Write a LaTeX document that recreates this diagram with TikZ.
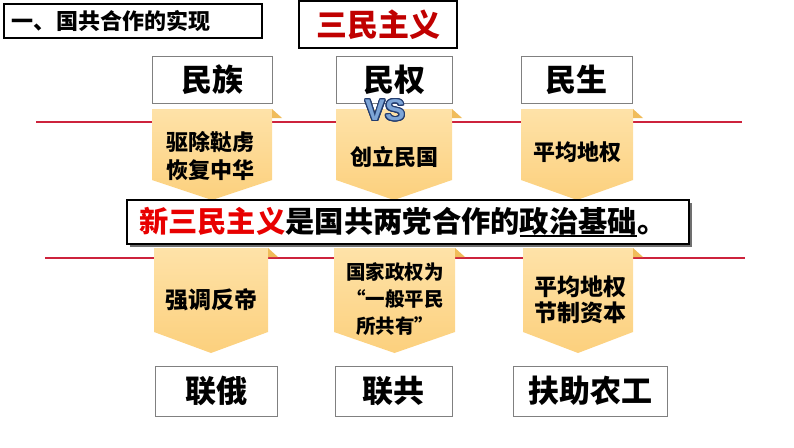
\documentclass[tikz,border=0pt]{standalone}
\usepackage{fontspec}
\usepackage{contour}
\newfontfamily\cjk{Noto Sans CJK SC}
\newfontfamily\vsfont{Liberation Sans}
\usetikzlibrary{positioning,shadows}

\definecolor{bannerlight}{RGB}{254,226,168}
\definecolor{banner}{RGB}{252,208,125}
\definecolor{bannerfold}{RGB}{240,188,90}
\definecolor{linered}{RGB}{205,35,60}
\definecolor{titlered}{RGB}{192,0,0}
\definecolor{newred}{RGB}{232,0,0}
\definecolor{boxgray}{RGB}{128,128,128}
\definecolor{vsblue}{RGB}{125,165,215}
\definecolor{vsdark}{RGB}{35,60,110}

% pennant: x-left, x-right, top, end of sides, tip
\newcommand{\pennant}[5]{%
  \shade[top color=bannerlight, bottom color=banner]
    (#1,#3) -- (#2,#3) -- (#2,#4) -- ({(#1+#2)/2},#5) -- (#1,#4) -- cycle;
  \fill[bannerfold] (#2,#3) -- (#2+10,#3+9) -- (#2,#3+9) -- cycle;}
% thick underline
\newcommand{\thickul}[1]{\setbox0\hbox{#1}\rlap{\rule[-4.5pt]{\wd0}{1.6pt}}\box0}

\tikzset{
  topbox/.style={draw=boxgray, fill=white, line width=1pt, inner sep=0pt,
    minimum height=47pt, font=\cjk\bfseries\fontsize{31}{31}\selectfont},
  bannertext/.style={align=center, inner sep=0pt,
    font=\cjk\bfseries\fontsize{22}{28}\selectfont},
  redline/.style={linered, line width=2.5pt}
}

\begin{document}
\begin{tikzpicture}[x=1pt, y=-1pt]
  \useasboundingbox (0,0) rectangle (794,447);

  \node[draw, line width=1.2pt, inner sep=0pt, inner xsep=8pt, minimum height=34pt,
    text width=242pt, align=left, font=\cjk\bfseries\fontsize{22}{22}\selectfont]
    (title) at (133,21) {一、国共合作的实现};
  \node[draw, line width=1.2pt, inner sep=0pt, minimum width=158pt, minimum height=47pt,
    text=titlered, font=\cjk\bfseries\fontsize{31}{31}\selectfont]
    (sanmin) at (378,24.5) {三民主义};

  \draw[redline] (36,122) -- (742,122);
  \draw[redline] (45,258) -- (745,258);

  \pennant{152}{272}{109}{180}{200}
  \pennant{336}{452}{109}{180}{200}
  \pennant{521}{633}{109}{180}{200}
  \pennant{154}{268}{248}{332}{353}
  \pennant{334}{455}{248}{332}{353}
  \pennant{523}{633}{248}{332}{353}

  \node[topbox, minimum width=120pt] (minzu) at (212,79.5) {民族};
  \node[topbox, minimum width=116pt] (minquan) at (394,79.5) {民权};
  \node[topbox, minimum width=111pt] (minsheng) at (576.5,79.5) {民生};

  \node[font=\vsfont\bfseries\fontsize{30}{30}\selectfont, inner sep=0pt] (vs) at (385,111)
    {\contourlength{1.2pt}\contour{vsdark}{\textcolor{vsblue}{VS}}};

  \node[bannertext] (quchu) at (210,156) {驱除鞑虏\\恢复中华};
  \node[bannertext] (chuangli) at (394,157) {创立民国};
  \node[bannertext] (pingjun) at (577,152) {平均地权};

  \node[draw, fill=white, line width=1.2pt, inner sep=0pt, inner xsep=12pt,
    minimum height=44pt, text width=538pt, align=left,
    drop shadow={shadow xshift=2.5pt, shadow yshift=-2.5pt, fill=black!80, opacity=0.7},
    font=\cjk\bfseries\fontsize{29.3}{29.3}\selectfont]
    (basis) at (408,222) {\textcolor{newred}{新三民主义}是国共两党合作的\thickul{政治基础}。};

  \node[bannertext, font=\cjk\bfseries\fontsize{23}{28}\selectfont] (fandi) at (211,300) {强调反帝};
  \node[bannertext, font=\cjk\bfseries\fontsize{19.5}{27}\selectfont] (zhengquan) at (395,299)
    {国家政权为\\“一般平民\\所共有”};
  \node[bannertext, font=\cjk\bfseries\fontsize{23}{26}\selectfont] (jiezhi) at (580,300)
    {平均地权\\节制资本};

  \node[topbox, minimum width=122pt, minimum height=50pt] (liane) at (216,391) {联俄};
  \node[topbox, minimum width=117pt, minimum height=50pt] (liangong) at (393.5,391) {联共};
  \node[topbox, minimum width=154pt, minimum height=50pt] (fuzhu) at (590,391) {扶助农工};
\end{tikzpicture}
\end{document}
